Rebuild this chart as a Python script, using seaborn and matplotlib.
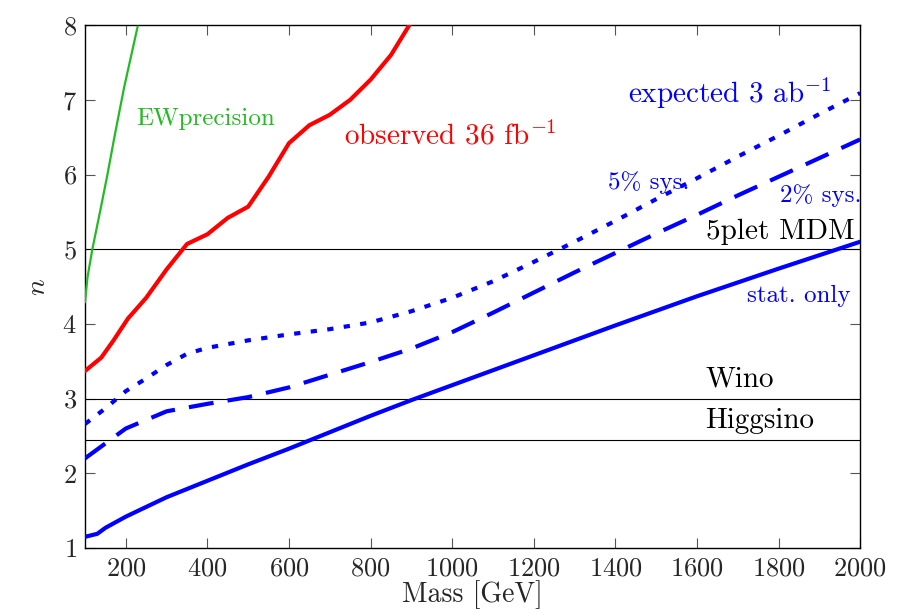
import matplotlib
matplotlib.use("Agg")
import matplotlib.pyplot as plt
import seaborn as sns
import pandas as pd

# ---- data ----
stat_mass = [100, 130, 150, 200, 300, 400, 500, 600, 700, 800, 900, 1000, 1200, 1400, 1600, 1800, 2000]
stat_n = [1.15, 1.19, 1.27, 1.42, 1.68, 1.90, 2.12, 2.33, 2.55, 2.77, 2.98, 3.18, 3.58, 3.98, 4.37, 4.74, 5.10]

sys2_mass = [100, 150, 200, 300, 400, 500, 600, 700, 800, 900, 1000, 1100, 1200, 1300, 1400, 1500, 1600, 1700, 1800, 1900, 2000]
sys2_n = [2.20, 2.40, 2.60, 2.83, 2.93, 3.02, 3.15, 3.32, 3.49, 3.67, 3.89, 4.15, 4.42, 4.69, 4.95, 5.21, 5.46, 5.72, 5.97, 6.22, 6.47]

sys5_mass = [100, 150, 200, 250, 300, 350, 400, 500, 600, 700, 800, 900, 1000, 1100, 1200, 1300, 1400, 1500, 1600, 1700, 1800, 1900, 2000]
sys5_n = [2.66, 2.87, 3.10, 3.27, 3.45, 3.60, 3.68, 3.78, 3.86, 3.93, 4.02, 4.17, 4.35, 4.57, 4.83, 5.10, 5.38, 5.67, 5.95, 6.24, 6.52, 6.81, 7.09]

obs_mass = [100, 140, 170, 205, 250, 300, 350, 400, 450, 500, 550, 600, 650, 700, 750, 800, 850, 895]
obs_n = [3.37, 3.55, 3.78, 4.07, 4.35, 4.73, 5.07, 5.20, 5.42, 5.57, 5.97, 6.42, 6.66, 6.80, 7.00, 7.27, 7.60, 8.00]

ew_mass = [100, 106, 118, 139, 155, 172, 196, 229]
ew_n = [4.29, 4.62, 5.00, 5.56, 6.00, 6.50, 7.17, 7.98]

ref_names = ["5plet MDM", "Wino", "Higgsino"]
ref_n = [5.0, 3.0, 2.45]

x_ticks = [200, 400, 600, 800, 1000, 1200, 1400, 1600, 1800, 2000]
y_ticks = [1, 2, 3, 4, 5, 6, 7, 8]

# ---- style ----
sns.set_theme(style="ticks")
plt.rcParams["font.family"] = ["cmr10", "DejaVu Serif"]
plt.rcParams["mathtext.fontset"] = "cm"
plt.rcParams["axes.formatter.use_mathtext"] = True

fig = plt.figure(figsize=(9.17, 6.13), dpi=100)
ax = fig.add_axes([0.0927, 0.106, 0.8453, 0.853])

BLUE = "#0000ff"
RED = "#ff0000"
GREEN = "#22bb22"

for name, y in zip(ref_names, ref_n):
    ax.axhline(y, color="black", lw=0.8, zorder=1)

sns.lineplot(data=pd.DataFrame({"m": ew_mass, "n": ew_n}), x="m", y="n", ax=ax,
             color=GREEN, lw=1.6, sort=False, zorder=3)
sns.lineplot(data=pd.DataFrame({"m": obs_mass, "n": obs_n}), x="m", y="n", ax=ax,
             color=RED, lw=3.0, sort=False, zorder=3)
sns.lineplot(data=pd.DataFrame({"m": stat_mass, "n": stat_n}), x="m", y="n", ax=ax,
             color=BLUE, lw=3.0, sort=False, zorder=3)
l2 = sns.lineplot(data=pd.DataFrame({"m": sys2_mass, "n": sys2_n}), x="m", y="n", ax=ax,
                  color=BLUE, lw=3.0, sort=False, zorder=3).lines[-1]
l2.set_dashes((6.0, 3.4))
l5 = sns.lineplot(data=pd.DataFrame({"m": sys5_mass, "n": sys5_n}), x="m", y="n", ax=ax,
                  color=BLUE, lw=3.0, sort=False, zorder=3).lines[-1]
l5.set_dashes((1.5, 2.5))

ax.set_xlim(100, 2000)
ax.set_ylim(1, 8)
ax.set_xticks(x_ticks)
ax.set_yticks(y_ticks)
ax.tick_params(direction="in", top=True, right=True, length=7, width=0.8,
               color="#555555", labelsize=19, pad=6)
for s in ax.spines.values():
    s.set_color("black")
    s.set_linewidth(1.0)
ax.set_xlabel("Mass [GeV]", fontsize=20, labelpad=0)
ax.set_ylabel("$n$", fontsize=20, labelpad=8)

# ---- annotations ----
ax.text(225, 6.75, "EWprecision", color=GREEN, fontsize=18, va="center", ha="left")
ax.text(734, 6.52, "observed 36 fb$^{-1}$", color=RED, fontsize=21, va="center", ha="left")
ax.text(1432, 7.09, "expected 3 ab$^{-1}$", color=BLUE, fontsize=21, va="center", ha="left")
ax.text(1383, 5.89, "5% sys.", color=BLUE, fontsize=18, va="center", ha="left")
ax.text(2003, 5.72, "2% sys.", color=BLUE, fontsize=18, va="center", ha="right")
ax.text(1976, 4.38, "stat. only", color=BLUE, fontsize=18, va="center", ha="right")
ax.text(1621, 5.06, ref_names[0], color="black", fontsize=21, va="bottom", ha="left")
ax.text(1621, 3.08, ref_names[1], color="black", fontsize=21, va="bottom", ha="left")
ax.text(1621, 2.53, ref_names[2], color="black", fontsize=21, va="bottom", ha="left")

fig.savefig("out.png", dpi=100)
